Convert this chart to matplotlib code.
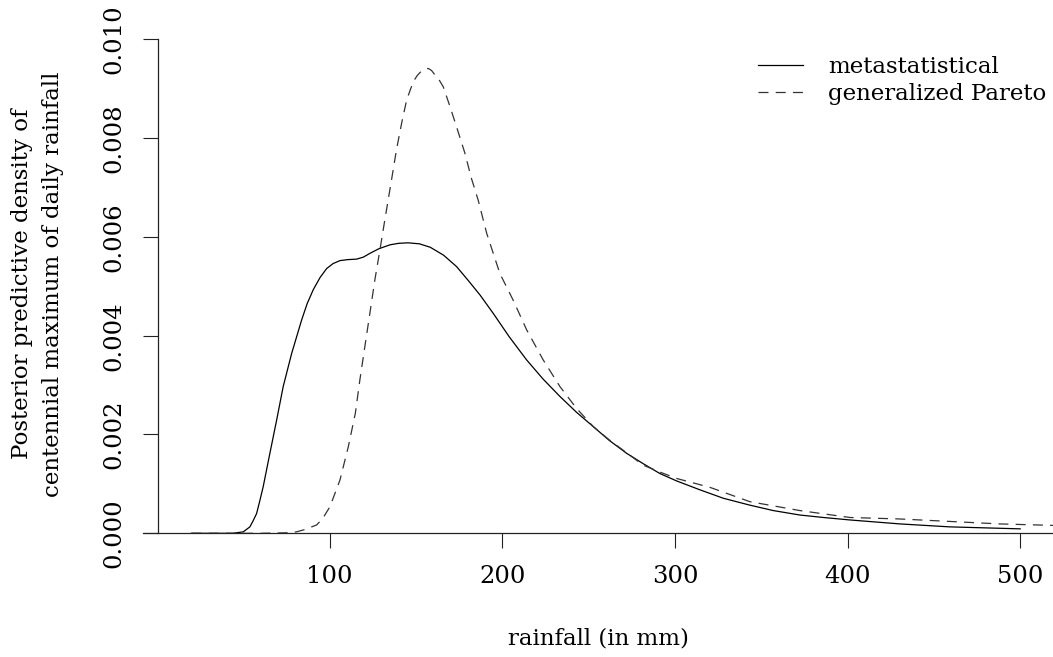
import matplotlib
matplotlib.use("Agg")
import matplotlib.pyplot as plt

plt.rcParams["font.family"] = ["DejaVu Serif"]
plt.rcParams["lines.scale_dashes"] = False

# rainfall (mm) and density
meta_x = [20, 44, 50, 53.8, 55.5, 57.7, 59.5, 61.5, 65.4, 69.3, 73.1, 78, 83.8, 87,
          90.5, 94.5, 98.3, 102, 106, 110.5, 115.6, 119.5, 123.5, 128.5, 135, 140,
          145.5, 152, 158.3, 166, 173.5, 180, 187.2, 194.8, 204, 214.1, 223.7, 233.4,
          243, 252.7, 262, 272, 281.6, 291.3, 301, 314.5, 328, 343.4, 357, 372.4,
          386, 401.4, 430.3, 459.3, 500]
meta_y = [0, 0, 0.00003, 0.00013, 0.00024, 0.0004, 0.00065, 0.00094, 0.00162, 0.00229,
          0.00297, 0.00364, 0.00432, 0.00465, 0.00493, 0.00518, 0.00536, 0.00546,
          0.00552, 0.00554, 0.00555, 0.00559, 0.00567, 0.00576, 0.00584, 0.00587,
          0.00588, 0.00586, 0.00579, 0.00563, 0.0054, 0.00513, 0.00482, 0.00445,
          0.00398, 0.00351, 0.00312, 0.00277, 0.00245, 0.00216, 0.00188, 0.00162,
          0.00141, 0.00121, 0.00106, 0.00088, 0.00071, 0.00057, 0.00046, 0.00037,
          0.00032, 0.00027, 0.00019, 0.00013, 0.00009]

gpd_x = [20, 60, 75, 80.9, 86, 92.5, 96, 100.2, 103, 106, 110.8, 114.9, 117.5, 120.4,
         123.3, 126.2, 129.1, 132, 135.5, 138.7, 141.7, 144.6, 148.4, 150.8, 153.3,
         155.2, 157.1, 159, 161, 163.4, 165.8, 169.7, 173.5, 178.4, 182, 186, 191,
         198.6, 206.3, 214.1, 223.7, 233.4, 243, 252.7, 262, 272, 281.6, 291.3, 301,
         320.3, 343.4, 372.4, 401.4, 430.3, 459.3, 488, 519]
gpd_y = [0, 0, 0.00001, 0.00003, 0.00008, 0.00017, 0.0003, 0.00054, 0.0008, 0.00108,
         0.00175, 0.00243, 0.0031, 0.00378, 0.00445, 0.00513, 0.00573, 0.00635,
         0.00708, 0.00776, 0.0083, 0.00877, 0.00914, 0.00927, 0.00936, 0.0094,
         0.00941, 0.00937, 0.00928, 0.00918, 0.00904, 0.00864, 0.00823, 0.00769,
         0.0072, 0.00675, 0.00607, 0.00526, 0.00472, 0.00412, 0.00351, 0.00297,
         0.00253, 0.00216, 0.00189, 0.00163, 0.00138, 0.00124, 0.00111, 0.00093,
         0.00064, 0.00046, 0.00032, 0.00029, 0.00024, 0.00019, 0.00016]

x_ticks = [100, 200, 300, 400, 500]
y_ticks = [0.000, 0.002, 0.004, 0.006, 0.008, 0.010]

W, H = 1053, 657
fig = plt.figure(figsize=(W / 100, H / 100), dpi=100)
fs = 16.5
fs_tick = 17.5

# axes placed in pixels: left 143, right 1053, top 0, bottom 560
ax = fig.add_axes([143 / W, 1 - 560 / H, (1053 - 143) / W, 560 / H])
ax.set_xlim(-8.1, 519)
ax.set_ylim(-26.7 / 49400, 533.3 / 49400)

ax.plot(meta_x, meta_y, color="black", lw=0.9, label="metastatistical")
ax.plot(gpd_x, gpd_y, color="#333333", lw=0.9, dashes=(7.2, 5.2),
        label="generalized Pareto")

for s in ["top", "right"]:
    ax.spines[s].set_visible(False)
ax.spines["left"].set_position(("data", 0.7))
ax.spines["left"].set_bounds(0, 0.01)
ax.spines["bottom"].set_position(("data", 0))
for s in ["left", "bottom"]:
    ax.spines[s].set_linewidth(0.9)
    ax.spines[s].set_color("#222222")

ax.set_xticks(x_ticks)
ax.set_xticklabels([str(v) for v in x_ticks], fontsize=fs_tick)
ax.set_yticks(y_ticks)
ax.set_yticklabels(["%.3f" % v for v in y_ticks], fontsize=fs_tick, rotation=90,
                   va="center")
ax.tick_params(axis="both", direction="out", length=10.8, width=0.8, color="#222222")
ax.tick_params(axis="x", pad=12)
ax.tick_params(axis="y", pad=13)

ax.legend(loc="upper left", bbox_to_anchor=(758 / W, 1 - 56 / H),
          bbox_transform=fig.transFigure, frameon=False, fontsize=fs,
          borderpad=0, borderaxespad=0, handlelength=1.96, handletextpad=1.1,
          labelspacing=0.2)

fig.text(598 / W, 1 - 638 / H, "rainfall (in mm)", ha="center", va="center",
         fontsize=fs)
fig.text(21.7 / W, 1 - 284 / H, "Posterior predictive density of", rotation=90,
         ha="center", va="center", fontsize=fs)
fig.text(53.3 / W, 1 - 284 / H, "centennial maximum of daily rainfall", rotation=90,
         ha="center", va="center", fontsize=fs)

fig.savefig("out.png", dpi=100)
